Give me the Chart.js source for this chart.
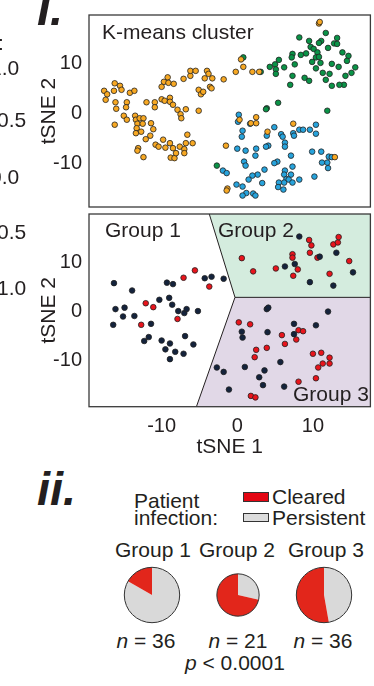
<!DOCTYPE html>
<html>
<head>
<meta charset="utf-8">
<script src="https://cdn.jsdelivr.net/npm/chart.js@4"></script>
<style>
  body { margin: 0; width: 374px; height: 686px; overflow: hidden; background: #fff; position: relative;
         font-family: "Liberation Sans", Arial, sans-serif; color: #231f20; }
  canvas { position: absolute; }
  .t { position: absolute; white-space: nowrap; font-size: 21px; line-height: 1; z-index: 2; }
  .box { position: absolute; border: 1px solid #333; box-sizing: border-box; z-index: 2; }
</style>
</head>
<body>
<canvas id="kmeans" width="374" height="215" style="left:0px;top:0px"></canvas>
<canvas id="groups" width="374" height="250" style="left:0px;top:210px"></canvas>
<canvas id="pie1" width="60" height="60"></canvas>
<canvas id="pie2" width="60" height="60"></canvas>
<canvas id="pie3" width="60" height="60"></canvas>
<div id="labels"></div>
<script>
// ---- data (tSNE units) ----
const orangeCluster = [
  [-17.6,4.1],[-17.2,3.4],[-17.4,2.3],[-16.2,5.6],[-15.5,5.1],[-16.3,4.1],[-15.3,4.3],[-14.2,3.7],[-13.6,4.1],
  [-16.1,1.8],[-16.0,0.5],[-14.6,1.8],[-14.7,0.8],[-15.0,-0.9],[-14.6,-1.7],[-16.2,-2.7],[-13.5,-0.9],[-13.4,-1.7],
  [-13.2,-2.5],[-13.3,-3.4],[-13.4,-4.4],[-12.9,-1.4],[-12.4,-1.4],[-12.5,-2.5],[-12.7,-4.1],[-11.4,-2.4],[-11.1,-3.6],
  [-11.5,-4.9],[-12.1,-5.6],[-13.1,-7.4],[-13.2,-7.9],[-12.4,-9.2],[-10.8,-6.7],[-10.4,-7.1],[-9.8,-5.7],[-9.5,-7.3],
  [-8.9,-6.4],[-8.8,-9.3],[-8.3,-9.4],[-8.5,-7.4],[-8.1,-8.4],[-7.6,-7.1],[-7.0,-7.6],[-6.8,-6.4],[-6.6,-4.7],
  [-7.0,-8.4],[-5.9,-6.4],[-12.0,1.8],[-10.9,1.8],[-10.9,0.8],[-10.0,2.4],[-9.6,2.1],[-8.9,2.7],[-8.9,1.9],
  [-8.5,1.3],[-7.9,0.3],[-7.5,-0.6],[-6.8,0.4],[-7.4,-1.4],[-5.1,0.1],[-9.2,6.8],[-9.7,5.9],[-9.1,5.7],[-8.4,5.5],
  [-10.0,4.9],[-7.1,6.5],[-6.2,7.1],[-6.2,8.1],[-5.5,8.1],[-4.0,8.1],[-3.8,7.5],[-4.3,6.6],[-3.3,6.6],[-5.1,4.3],
  [-4.8,3.4],[-4.5,3.9],[-3.6,4.9],[-3.4,4.6],[-1.8,6.4],[-0.2,7.9],[0.5,10.4],[0.8,8.9],[2.0,7.9],[2.9,7.9],
  [10.8,17.6],[10.9,17.9],[-1.5,-6.9],[-1.3,-15.5],[-1.4,-15.9],[0.3,-1.7],[1.8,-2.4],[2.5,-2.4],[2.5,-1.2],
  [4.0,-4.1],[7.4,-2.5],[12.9,-9.2]
];
const greenCluster = [
  [8.2,14.8],[9.5,14.1],[11.1,14.1],[11.7,15.7],[13.2,14.7],[12.8,13.6],[10.8,13.7],[9.7,12.9],[10.1,12.5],
  [9.1,11.6],[10.6,11.8],[13.2,13.5],[12.0,12.7],[13.9,11.8],[14.7,11.1],[14.5,10.1],[7.3,11.5],[7.2,10.8],
  [7.6,9.4],[8.4,11.3],[10.4,10.8],[10.8,10.9],[9.9,9.9],[11.0,9.7],[12.5,9.5],[13.4,8.9],[15.6,8.8],[15.1,7.7],
  [14.3,7.1],[14.1,5.3],[13.5,5.3],[12.5,5.1],[11.7,6.3],[12.2,7.5],[11.3,7.7],[10.4,8.6],[8.9,6.7],[9.5,6.1],
  [7.3,7.1],[7.0,5.3],[6.2,8.8],[5.5,10.3],[5.0,9.4],[5.1,8.4],[5.1,7.5],[4.3,8.9],[3.1,7.9],[0.8,10.8],
  [5.4,1.7],[3.9,0.6],[3.8,0.4],[11.9,0.1],[-2.7,-10.9]
];
const blueCluster = [
  [0.2,-0.7],[0.1,-2.1],[0.7,-3.9],[0.6,-5.1],[1.7,-2.5],[0.0,-7.5],[1.1,-7.9],[2.5,-7.5],[2.4,-8.9],[0.9,-10.1],
  [1.1,-10.9],[4.9,-3.2],[3.9,-4.9],[5.8,-4.6],[6.0,-5.1],[6.3,-6.3],[6.3,-7.1],[4.1,-6.9],[3.8,-7.1],[7.4,-4.4],
  [8.2,-3.7],[8.7,-3.7],[7.5,-4.9],[9.6,-3.7],[10.4,-2.7],[10.4,-4.5],[9.9,-8.1],[11.1,-8.1],[12.1,-9.1],
  [12.5,-9.2],[11.9,-10.3],[12.0,-11.4],[11.2,-10.3],[10.2,-13.1],[7.1,-8.9],[7.3,-11.1],[6.3,-11.9],[6.2,-12.7],
  [6.5,-13.6],[5.3,-10.1],[4.9,-10.4],[3.6,-11.7],[2.7,-12.7],[2.0,-12.9],[1.5,-13.7],[3.3,-14.4],[6.2,-14.3],
  [5.5,-14.3],[5.4,-15.2],[6.1,-15.7],[7.1,-12.7],[6.8,-13.7],[7.3,-14.3],[8.2,-13.7],[-1.9,-11.9],[-1.4,-12.4],
  [-0.1,-14.7],[0.7,-15.1],[1.2,-16.4],[0.7,-16.9],[2.1,-16.5],[2.4,-16.9]
];

// patient-level map (group panels)
const persistentPatients = [
  [-16.3,5.4],[-13.9,3.9],[-16.1,0.1],[-14.9,0.4],[-15.1,-1.4],[-13.6,-1.3],[-16.4,-3.1],[-11.4,-2.9],[-12.3,-6.4],
  [-11.7,-5.6],[-10.0,-6.3],[-8.9,-6.9],[-9.5,-8.1],[-8.9,-10.1],[-8.2,-8.6],[-7.1,-9.0],[-6.9,-5.4],[-5.8,-7.1],
  [-10.3,2.0],[-9.0,2.4],[-8.6,1.0],[-9.3,5.5],[-8.5,5.2],[-7.8,-0.3],[-7.0,-0.7],[-6.7,0.1],[-5.2,-0.3],
  [-4.3,6.4],[-3.4,6.7],[-1.8,6.3],
  [8.2,14.9],[7.6,9.3],[6.3,8.8],[9.6,5.6],[13.1,11.6],[12.7,4.9],[15.3,7.6],[10.9,10.8],
  [3.9,0.1],[4.1,0.4],[12.0,-0.4],[7.5,-2.9],[10.4,-3.2],[7.5,-5.0],[0.6,-4.5],[0.7,-5.7],[4.0,-4.6],
  [-2.7,-11.8],[-1.8,-12.7],[-1.1,-16.3],[1.0,-11.7],[3.6,-12.4],[2.9,-13.8],[3.4,-15.4],[5.7,-10.7],[6.2,-15.7]
];
const clearedPatients = [
  [-12.1,1.3],[-11.1,0.5],[-12.7,-3.1],[-7.9,-1.9],[-7.1,6.5],[-5.6,8.0],[-3.7,4.7],
  [0.6,10.5],[2.1,7.8],[5.1,8.4],[7.3,11.3],[7.3,10.6],[7.4,6.9],[8.0,8.2],[9.5,14.2],[9.8,13.1],[9.6,11.6],
  [10.6,10.6],[12.7,13.3],[13.3,13.7],[13.4,14.8],[14.8,9.9],[12.2,7.3],
  [0.2,-2.6],[1.7,-3.0],[2.5,-8.2],[2.3,-9.7],[3.9,-7.8],[5.9,-5.2],[6.3,-7.0],[7.8,-6.1],[8.1,-4.2],[8.7,-4.4],
  [10.0,-9.0],[11.1,-8.8],[10.7,-11.8],[11.3,-11.0],[12.2,-9.8],[12.2,-11.0],[8.1,-14.7],[10.4,-14.0],
  [1.8,-17.6],[2.4,-17.9]
];
// group region outlines (tSNE units)
const group2Region = [[-3.7,19.5],[17.6,19.5],[17.6,2.5],[-0.3,2.5]];
const group3Region = [[-0.3,2.5],[17.6,2.5],[17.6,-19.8],[-5.4,-19.8]];
const regionEdges = [[[-3.7,19.5],[-0.3,2.5],[17.6,2.5]], [[-0.3,2.5],[-5.4,-19.8]]];

const axisTicks = [-10, 0, 10];

const pieGroups = ['Group 1', 'Group 2', 'Group 3'];
const clearedCounts = [6, 15, 19];
const persistentCounts = [30, 6, 17];

// ---- drawing ----
const ink = '#231f20';
const font = 'Liberation Sans, Arial, sans-serif';

const panelPlugin = {
  id: 'panel',
  beforeDatasetsDraw(chart, args, opts) {
    const { ctx, scales: { x, y } } = chart;
    const px = p => [x.getPixelForValue(p[0]), y.getPixelForValue(p[1])];
    ctx.save();
    (opts.regions || []).forEach(r => {
      ctx.beginPath();
      r.pts.forEach((p, i) => { const [a, b] = px(p); i ? ctx.lineTo(a, b) : ctx.moveTo(a, b); });
      ctx.closePath();
      ctx.fillStyle = r.color;
      ctx.fill();
    });
    ctx.strokeStyle = ink;
    ctx.lineWidth = 1;
    (opts.edges || []).forEach(e => {
      ctx.beginPath();
      e.forEach((p, i) => { const [a, b] = px(p); i ? ctx.lineTo(a, b) : ctx.moveTo(a, b); });
      ctx.stroke();
    });
    ctx.restore();
  },
  afterDraw(chart) {
    const { ctx, chartArea: a } = chart;
    ctx.save();
    ctx.strokeStyle = '#3a3a3a';
    ctx.lineWidth = 1.3;
    ctx.strokeRect(a.left, a.top, a.right - a.left, a.bottom - a.top);
    ctx.restore();
  }
};

function dots(data, color) {
  return {
    data: data.map(([x, y]) => ({ x, y })),
    backgroundColor: color, borderColor: '#222', borderWidth: 0.8,
    pointRadius: 2.8, pointHoverRadius: 2.8
  };
}

// no extra room for edge tick labels, the box is placed by layout padding
const noPad = s => { s.paddingTop = 0; s.paddingBottom = 0; s.paddingLeft = 0; s.paddingRight = 0; };

function yAxis(min, max) {
  return {
    min, max,
    afterFit: s => { s.width = 59; noPad(s); },
    afterBuildTicks: s => { s.ticks = axisTicks.map(v => ({ value: v })); },
    grid: { display: false, drawTicks: false },
    border: { display: false },
    ticks: { color: ink, padding: 7, labelOffset: 2, font: { family: font, size: 20 } },
    title: { display: true, text: 'tSNE 2', color: ink, padding: { top: 7, bottom: 0 }, font: { family: font, size: 21 } }
  };
}

new Chart(document.getElementById('kmeans'), {
  type: 'scatter',
  data: { datasets: [dots(orangeCluster, '#f7a823'), dots(greenCluster, '#0a9347'), dots(blueCluster, '#27a3dc')] },
  options: {
    responsive: false, animation: false, devicePixelRatio: 1,
    layout: { padding: { left: 30, top: 15, right: 2, bottom: 8 } },
    plugins: { legend: { display: false }, tooltip: { enabled: false } },
    scales: {
      x: { min: -19.6, max: 17.6, display: false },
      y: yAxis(-19.2, 19.3)
    }
  },
  plugins: [panelPlugin]
});

new Chart(document.getElementById('groups'), {
  type: 'scatter',
  data: { datasets: [dots(persistentPatients, '#14233c'), dots(clearedPatients, '#e8141c')] },
  options: {
    responsive: false, animation: false, devicePixelRatio: 1,
    layout: { padding: { left: 30, top: 4, right: 2, bottom: 0 } },
    plugins: {
      legend: { display: false }, tooltip: { enabled: false },
      panel: {
        regions: [{ pts: group2Region, color: '#d4ecde' }, { pts: group3Region, color: '#e1d8e7' }],
        edges: regionEdges
      }
    },
    scales: {
      x: {
        min: -19.6, max: 17.6,
        afterFit: s => { s.height = 53.3; noPad(s); },
        afterBuildTicks: s => { s.ticks = axisTicks.map(v => ({ value: v })); },
        grid: { display: false, drawTicks: false },
        border: { display: false },
        ticks: { color: ink, padding: 8, maxRotation: 0, font: { family: font, size: 20 } },
        title: { display: true, text: 'tSNE 1', color: ink, padding: { top: 0, bottom: 0 }, font: { family: font, size: 21 } }
      },
      y: yAxis(-19.8, 19.5)
    }
  },
  plugins: [panelPlugin]
});

// pies: area scaled by patient count
const pieCenters = [152, 237.7, 324];
const ringPlugin = {
  id: 'ring',
  afterDatasetsDraw(chart) {
    const arc = chart.getDatasetMeta(0).data[0];
    const ctx = chart.ctx;
    ctx.save();
    ctx.beginPath();
    ctx.arc(arc.x, arc.y, arc.outerRadius, 0, Math.PI * 2);
    ctx.strokeStyle = '#333';
    ctx.lineWidth = 1;
    ctx.stroke();
    ctx.restore();
  }
};
pieGroups.forEach((g, i) => {
  const n = clearedCounts[i] + persistentCounts[i];
  const cv = document.getElementById('pie' + (i + 1));
  cv.style.left = (pieCenters[i] - 30) + 'px';
  cv.style.top = (595 - 30) + 'px';
  new Chart(cv, {
    type: 'pie',
    data: {
      labels: ['Persistent', 'Cleared'],
      datasets: [{
        data: [persistentCounts[i], clearedCounts[i]],
        backgroundColor: ['#d9d9d9', '#e2261b'],
        borderWidth: 0,
        radius: 27.7 * Math.sqrt(n / 36)
      }]
    },
    options: {
      responsive: false, animation: false, devicePixelRatio: 1,
      plugins: { legend: { display: false }, tooltip: { enabled: false } }
    },
    plugins: [ringPlugin]
  });
});

// ---- text ----
const labels = document.getElementById('labels');
function text(html, x, baseline, opts = {}) {
  const size = opts.size || 21;
  const d = document.createElement('div');
  d.className = 't';
  d.innerHTML = html;
  d.style.fontSize = size + 'px';
  d.style.top = (baseline - 0.8465 * size) + 'px';
  if (opts.weight) d.style.fontWeight = opts.weight;
  if (opts.italic) d.style.fontStyle = 'italic';
  labels.appendChild(d);
  if (opts.align === 'center') d.style.left = (x - d.offsetWidth / 2) + 'px';
  else if (opts.align === 'right') d.style.left = (x - d.offsetWidth) + 'px';
  else d.style.left = x + 'px';
}
// clipped tick labels of the neighbouring panel
text(':', 4, 50, { align: 'right' });
text('1.0', 19, 75, { align: 'right' });
text('0.5', 26, 127, { align: 'right' });
text('0.0', 19, 184, { align: 'right' });
text('0.5', 26, 239, { align: 'right' });
text('1.0', 26, 295, { align: 'right' });

text('I.', 37, 25, { size: 47, weight: 'bold', italic: true });
text('ii.', 37, 505, { size: 47, weight: 'bold', italic: true });
text('K-means cluster', 102, 39);
text('Group 1', 105, 237);
text('Group 2', 218, 237);
text('Group 3', 293, 401);

text('Patient', 134, 508);
text('infection:', 134, 525);
const sw = (top, h, color) => {
  const b = document.createElement('div');
  b.className = 'box';
  Object.assign(b.style, { left: '243px', top: top + 'px', width: '26px', height: h + 'px', background: color });
  labels.appendChild(b);
};
sw(492, 10, '#e30613');
sw(513, 9, '#dcdcdc');
text('Cleared', 272, 504);
text('Persistent', 272, 525);

pieGroups.forEach((g, i) => {
  const n = clearedCounts[i] + persistentCounts[i];
  text(g, [153, 237, 326][i], 557, { align: 'center' });
  text('<i>n</i> = ' + n, [146, 238, 323][i], 648, { align: 'center' });
});
text('<i>p</i> &lt; 0.0001', 235, 670, { align: 'center' });
</script>
</body>
</html>
